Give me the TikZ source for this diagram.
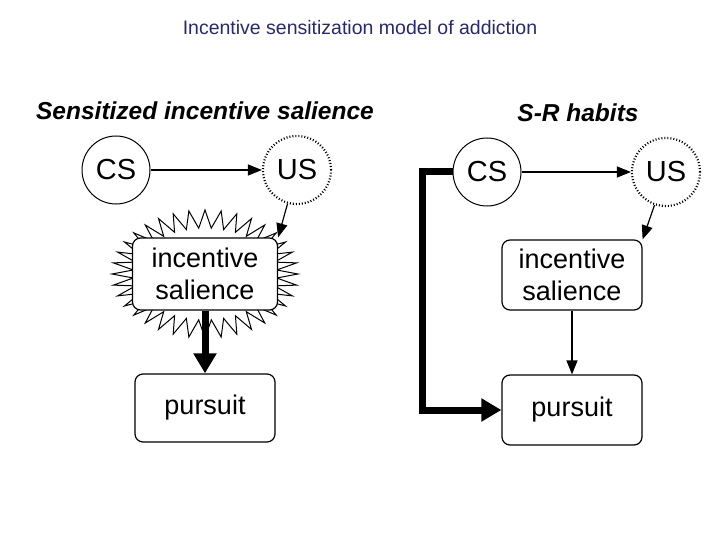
\documentclass[tikz,border=0pt]{standalone}
\usepackage{fontspec}
\setmainfont{Liberation Sans}
\usetikzlibrary{arrows.meta}
\begin{document}
\begin{tikzpicture}[x=1pt,y=-1pt,
  circ/.style={circle,draw,line width=1pt,minimum size=68pt,inner sep=0pt,font=\fontsize{29}{30}\selectfont},
  dcirc/.style={circ,dotted,line width=2.2pt},
  box/.style={draw,rounded corners=8pt,line width=1.2pt,fill=white,align=center,font=\fontsize{27}{32}\selectfont},
  thin/.style={-{Triangle[length=14pt,width=11pt]},line width=1.2pt},
  thick/.style={-{Triangle[length=20pt,width=22pt]},line width=7pt},
  head/.style={font=\bfseries\itshape\fontsize{24.5}{28}\selectfont}]
\useasboundingbox (0,0) rectangle (720,540);
\node[font=\fontsize{19.5}{22}\selectfont,text={rgb,255:red,40;green,40;blue,110}] (title) at (360,28) {Incentive sensitization model of addiction};
% left
\node[head] (h1) at (205,111) {Sensitized incentive salience};
\node[circ] (cs1) at (116,170) {CS};
\node[dcirc] (us1) at (297,170) {US};
\draw[line width=1pt,fill=white]
  plot[samples=73,domain=0:360,variable=\t] ({205+(mod(round(\t/5),2)==0 ? 93 : 72)*cos(\t)},{274+(mod(round(\t/5),2)==0 ? 64 : 46)*sin(\t)}) -- cycle;
\node[box,minimum width=145pt,minimum height=72pt] (is1) at (205,274) {incentive\\salience};
\node[box,minimum width=140pt,minimum height=68pt] (p1) at (205,408) {pursuit};
\draw[thin] (cs1) -- (us1);
\draw[thin] (us1) -- (is1.north east);
\draw[thick] (is1) -- (p1);
% right
\node[head] (h2) at (578,113) {S-R habits};
\node[circ] (cs2) at (487,172) {CS};
\node[dcirc] (us2) at (666,172) {US};
\node[box,minimum width=140pt,minimum height=70pt] (is2) at (572,275) {incentive\\salience};
\node[box,minimum width=140pt,minimum height=70pt] (p2) at (572,410) {pursuit};
\draw[thin] (cs2) -- (us2);
\draw[thin] (us2) -- (is2.north east);
\draw[thin] (is2) -- (p2);
\draw[thick] (cs2.west) -- (422,172) |- (p2.west);
\end{tikzpicture}
\end{document}
